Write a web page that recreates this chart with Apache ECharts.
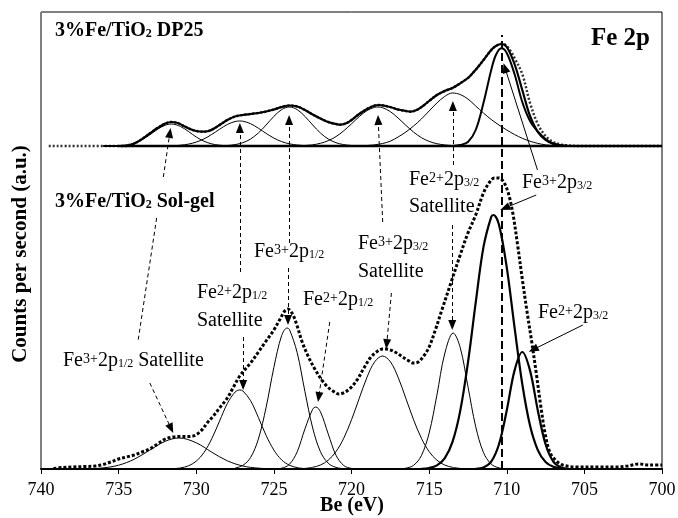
<!DOCTYPE html>
<html>
<head>
<meta charset="utf-8">
<script src="https://cdn.jsdelivr.net/npm/echarts@6/dist/echarts.min.js"></script>
<style>
html,body{margin:0;padding:0;background:#fff}
#c{width:678px;height:518px}
</style>
</head>
<body>
<div id="c"></div>
<script>
var FONT = 'Liberation Serif';

// x ticks (binding energy, eV)
var xTicks = [740, 735, 730, 725, 720, 715, 710, 705, 700];

// ---- 3%Fe/TiO2 DP25 (upper trace), [Be, counts a.u.] ----
var topBaseline = [[735, 0], [700, 0]];
var topData = [[739.5,0],[734.5,0],[734.2,1],[733.8,4],[733.4,8],[733,12.5],[732.5,18],[732,22.5],[731.6,24],[731.2,23],[730.8,20],[730.4,17],[730,15],[729.6,14.3],[729.2,15],[728.8,18],[728.4,22],[728,26],[727.5,29.5],[727,31],[726.5,32],[726,33],[725.5,34.5],[725,36.5],[724.5,39],[724,40.5],[723.5,39.5],[723,36],[722.5,31.5],[722,27.5],[721.5,24],[721,22],[720.7,21.3],[720.3,23],[720,26],[719.5,32],[719,37],[718.5,40.5],[718.2,41],[717.8,40],[717.4,38.5],[717,36.5],[716.5,35],[716.2,34.3],[715.8,36],[715.4,40],[715,45],[714.5,51],[714,55],[713.5,58],[713,62.7],[712.5,68],[712.2,72.7],[711.8,80],[711.5,86],[711,96],[710.7,100],[710.35,102],[710.2,102],[709.8,96],[709.5,88],[709,72],[708.5,43],[708,22],[707.5,10],[707,4],[706.5,1.5],[706,0.5],[705.5,0],[700,0]];
var topFit = [[736,0],[734.5,0],[734.2,1],[733.8,4],[733.4,8],[733,12.5],[732.5,18],[732,22.5],[731.6,24],[731.2,23],[730.8,20],[730.4,17],[730,15],[729.6,14.3],[729.2,15],[728.8,18],[728.4,22],[728,26],[727.5,29.5],[727,31],[726.5,32],[726,33],[725.5,34.5],[725,36.5],[724.5,39],[724,40.5],[723.5,39.5],[723,36],[722.5,31.5],[722,27.5],[721.5,24],[721,22],[720.7,21.3],[720.3,23],[720,26],[719.5,32],[719,37],[718.5,40.5],[718.2,41],[717.8,40],[717.4,38.5],[717,36.5],[716.5,35],[716.2,34.3],[715.8,36],[715.4,40],[715,45],[714.5,51],[714,55],[713.5,58],[713,62.7],[712.5,68],[712.2,72.7],[711.8,80],[711.5,86],[711,96],[710.7,100],[710.35,102],[710,99],[709.5,82],[709,56],[708.5,30],[708,14],[707.5,6],[707,2],[706.5,0.5],[706,0],[700,0]];
var topFe3Sat12 = [[735,0.3],[734.5,1.2],[734,3],[733.5,6.3],[733,11.1],[732.5,16.6],[732,20.8],[731.6,22],[731,19.4],[730.5,14.5],[730,9],[729.5,4.8],[729,2.1],[728.5,0.8],[728,0.2],[727.5,0]];
var topFe2Sat12 = [[731.5,0.3],[731,0.8],[730.5,1.9],[730,3.9],[729.5,7.1],[729,11.6],[728.5,16.7],[728,21.5],[727.5,24.5],[727.2,25],[727,24.8],[726.5,22.3],[726,17.8],[725.5,12.6],[725,7.9],[724.5,4.4],[724,2.2],[723.5,1],[723,0.4],[722.5,0.1]];
var topFe3p12 = [[728.5,0.15],[728,0.5],[727.5,1.4],[727,3.3],[726.5,7],[726,13],[725.5,21],[725,29.6],[724.5,36.4],[724,39],[723.5,36.4],[723,29.6],[722.5,21],[722,13],[721.5,7],[721,3.3],[720.5,1.4],[720,0.5],[719.5,0.15]];
var topFe3Sat32 = [[723,0.5],[722.5,1.2],[722,2.7],[721.5,5.3],[721,9.4],[720.5,15.2],[720,22.2],[719.5,29.4],[719,35.4],[718.5,38.7],[718.3,39],[718,38.3],[717.5,34.4],[717,28],[716.5,20.7],[716,13.9],[715.5,8.4],[715,4.6],[714.5,2.3],[714,1.1],[713.5,0.4]];
var topFe2Sat32 = [[719,0.5],[718.5,1.2],[718,2.5],[717.5,4.8],[717,9],[716.5,14],[716,20],[715.5,27],[715,35],[714.5,43],[714,49.5],[713.5,53],[713,51.5],[712.5,47],[712,40],[711.5,33],[711,26.5],[710.5,21],[710,16],[709.5,11.5],[709,7.7],[708.5,4.8],[708,2.6],[707.5,1.2],[707,0.4]];
var topFe3p32 = [[713.5,0],[713,1],[712.5,4],[712,16],[711.5,43],[711,76],[710.7,91],[710.35,97.7],[710,93],[709.5,72],[709,44],[708.5,25],[708,14.5],[707.5,7],[707,2.5],[706.5,0.7],[706,0]];

// ---- 3%Fe/TiO2 Sol-gel (lower trace) ----
var solData = [[739.2,0.5],[738.6,1.5],[738,2],[737.2,2.5],[736.5,3],[736,4.5],[735.5,7],[735,10],[734.5,12],[734,14],[733.5,17],[733,20],[732.5,25],[732,30],[731.5,32],[731,32.5],[730.5,32.5],[730.1,33.5],[729.7,38],[729.3,46],[728.9,53],[728.5,61],[728,71],[727.6,82],[727.2,93],[726.5,106],[726,117],[725.5,128],[725,139],[724.6,150],[724.3,158],[724.1,160],[723.8,155],[723.5,143],[723.2,128],[722.8,113],[722.4,101],[722,91],[721.6,83],[721.2,78],[720.8,75],[720.4,77],[720,82],[719.6,90],[719.2,101],[718.8,111],[718.4,117],[718,120],[717.6,119.5],[717.2,117],[716.8,113],[716.4,109],[716,106],[715.7,107],[715.3,114],[715,122],[714.6,139],[714.2,158],[713.6,186],[713,214],[712.5,236],[712,254],[711.5,276],[711.1,287],[710.8,291],[710.5,291],[710.2,287],[709.9,276],[709.6,255],[709.3,224],[709,190],[708.7,158],[708.4,128],[708.1,96],[707.8,62],[707.5,33],[707.2,16],[706.8,8],[706.4,4],[705.5,2],[704,2],[703,2],[702.2,3],[701.5,5],[700.8,4],[700,4]];
var solFe3Sat12 = [[737,0.25],[736,1.1],[735,3.8],[734,9.7],[733,18.8],[732,27.7],[731.1,31],[730,26.2],[729,16.8],[728,8.2],[727,3],[726,0.85],[725,0.2]];
var solFe2Sat12 = [[731.5,0.3],[731,1.1],[730.5,3.2],[730,7.8],[729.5,16.5],[729,30.3],[728.5,47.9],[728,65.4],[727.5,76.9],[727.2,79],[727,78.1],[726.5,68.3],[726,51.6],[725.5,33.6],[725,18.9],[724.5,9.1],[724,3.8],[723.5,1.4],[723,0.4]];
var solFe3p12 = [[727.5,0.9],[727,3.6],[726.5,11.5],[726,29.9],[725.5,61.7],[725,101.6],[724.5,133.4],[724.15,141],[724,139.6],[723.5,116.4],[723,77.4],[722.5,41],[722,17.3],[721.5,5.8],[721,1.6],[720.5,0.3]];
var solFe2p12 = [[725,0.1],[724.5,0.8],[724,4.7],[723.5,17.2],[723,40.1],[722.5,59.8],[722.3,62],[722,57.2],[721.5,35.1],[721,13.8],[720.5,3.5],[720,0.6],[719.5,0]];
var solFe3Sat32 = [[723,0.6],[722.5,1.7],[722,4],[721.5,8.8],[721,17.4],[720.5,30.8],[720,49.2],[719.5,70.7],[719,91.8],[718.5,107.3],[718,113],[717.5,107.3],[717,91.8],[716.5,70.7],[716,49.2],[715.5,30.8],[715,17.4],[714.5,8.8],[714,4],[713.5,1.7],[713,0.6]];
var solFe2Sat32 = [[717,0.1],[716.5,0.8],[716,3.7],[715.5,13.3],[715,35.9],[714.5,73.8],[714,115],[713.45,136],[713,121.6],[712.5,82.5],[712,42.4],[711.5,16.5],[711,4.9],[710.5,1.1],[710,0.2]];
var solFe3p32 = [[715.5,0.25],[715,1],[714.5,3.6],[714,10.6],[713.5,26.8],[713,57.9],[712.5,106.3],[712,166.4],[711.5,221.9],[711,252.2],[710.85,254],[710.5,244.2],[710,201.6],[709.5,141.8],[709,85],[708.5,43.4],[708,18.9],[707.5,7],[707,2.2],[706.5,0.6]];
var solFe2p32 = [[712,0.2],[711.5,1.5],[711,7.3],[710.5,24.7],[710,58.6],[709.5,98.4],[709,117],[708.5,98.4],[708,58.6],[707.5,24.7],[707,7.3],[706.5,1.5],[706,0.2]];

// vertical offset of the upper trace
var TOP_OFFSET = 323;

function curve(data, offset, width, dash, color) {
  return {
    type: 'line',
    data: data.map(function (p) { return [p[0], p[1] + offset]; }),
    showSymbol: false,
    symbol: 'none',
    smooth: 0.35,
    silent: true,
    lineStyle: { color: color || '#000', width: width, type: dash || 'solid' }
  };
}

function arrow(p1, p2, dashed, head) {
  return [
    { coord: p1, symbol: 'none', lineStyle: { type: dashed ? [4, 3] : 'solid', width: 1, color: '#000' } },
    { coord: p2, symbol: head ? 'triangle' : 'none' }
  ];
}

var arrows = [
  arrow([732.12, 292], [731.70, 336], true, true),
  arrow([732.55, 251], [733.74, 129], true, false),
  arrow([732.99, 86], [731.62, 40.5], true, true),
  arrow([727.19, 197], [727.19, 341], true, true),
  arrow([726.98, 132], [726.98, 84], true, true),
  arrow([724.02, 226], [724.02, 349], true, true),
  arrow([724.09, 201], [724.09, 149], true, true),
  arrow([721.40, 147], [722.11, 72], true, true),
  arrow([717.99, 247], [718.28, 349], true, true),
  arrow([717.43, 176], [717.73, 125], true, true),
  arrow([713.47, 304], [713.47, 363], true, true),
  arrow([713.51, 244], [713.51, 144], true, true),
  arrow([708.02, 299], [710.11, 401], false, true),
  arrow([708.10, 274], [710.12, 261], false, true),
  arrow([705.10, 144], [708.29, 119.5], false, true),
  [
    { coord: [710.32, 0], symbol: 'none', lineStyle: { type: [8, 4], width: 2, color: '#000' } },
    { coord: [710.32, 434], symbol: 'none' }
  ]
];

function richFor(size, bold) {
  var w = bold ? 'bold' : 'normal';
  return {
    sup: { fontFamily: FONT, fontSize: Math.round(size * 0.68), fontWeight: w, lineHeight: Math.round(size * 0.68), verticalAlign: 'top', fill: '#000' },
    sub: { fontFamily: FONT, fontSize: Math.round(size * 0.62), fontWeight: w, lineHeight: Math.round(size * 0.25), verticalAlign: 'bottom', fill: '#000' }
  };
}

function txt(x, y, text, size, bold, align, rot) {
  return {
    type: 'text', x: x, y: y, rotation: rot || 0, silent: true, z: 100,
    style: {
      text: text, fontFamily: FONT, fontSize: size, fontWeight: bold ? 'bold' : 'normal',
      fill: '#000', align: align || 'left', verticalAlign: 'middle',
      lineHeight: Math.round(size * 0.9), rich: richFor(size, bold)
    }
  };
}

var labels = [
  txt(21, 254, 'Counts per second (a.u.)', 21, true, 'center', Math.PI / 2),
  txt(352, 506, 'Be (eV)', 20, true, 'center'),
  txt(55, 31, '3%Fe/TiO{sub|2} DP25', 20, true),
  txt(650, 39, 'Fe 2p', 25, true, 'right'),
  txt(55, 202, '3%Fe/TiO{sub|2} Sol-gel', 20, true),
  txt(63, 361, 'Fe{sup|3+}2p{sub|1/2} Satellite', 20),
  txt(197, 293, 'Fe{sup|2+}2p{sub|1/2}', 20),
  txt(197, 321, 'Satellite', 20),
  txt(254, 252, 'Fe{sup|3+}2p{sub|1/2}', 20),
  txt(303, 300, 'Fe{sup|2+}2p{sub|1/2}', 20),
  txt(358, 244, 'Fe{sup|3+}2p{sub|3/2}', 20),
  txt(358, 272, 'Satellite', 20),
  txt(409, 180, 'Fe{sup|2+}2p{sub|3/2}', 20),
  txt(409, 207, 'Satellite', 20),
  txt(522, 183, 'Fe{sup|3+}2p{sub|3/2}', 20),
  txt(538, 313, 'Fe{sup|2+}2p{sub|3/2}', 20)
];

var series = [
  curve(topData, TOP_OFFSET, 2.5, [2, 2], '#333'),
  curve(topBaseline, TOP_OFFSET, 2.5),
  curve(topFit, TOP_OFFSET, 2.2),
  curve(topFe3Sat12, TOP_OFFSET, 1),
  curve(topFe2Sat12, TOP_OFFSET, 1),
  curve(topFe3p12, TOP_OFFSET, 1),
  curve(topFe3Sat32, TOP_OFFSET, 1),
  curve(topFe2Sat32, TOP_OFFSET, 1),
  curve(topFe3p32, TOP_OFFSET, 2),
  curve(solData, 0, 3, [3, 2]),
  curve(solFe3Sat12, 0, 1),
  curve(solFe2Sat12, 0, 1),
  curve(solFe3p12, 0, 1),
  curve(solFe2p12, 0, 1),
  curve(solFe3Sat32, 0, 1),
  curve(solFe2Sat32, 0, 1),
  curve(solFe3p32, 0, 2.2),
  curve(solFe2p32, 0, 2.2),
  {
    type: 'line', data: [], silent: true,
    markLine: {
      silent: true, animation: false,
      symbol: ['none', 'triangle'], symbolSize: [8, 10],
      label: { show: false },
      emphasis: { disabled: true },
      data: arrows
    }
  }
];

var option = {
  animation: false,
  backgroundColor: '#fff',
  grid: {
    left: 41, right: 16, top: 12, bottom: 49, outerBoundsMode: 'none', containLabel: false,
    show: true, borderColor: '#000', borderWidth: 1
  },
  xAxis: {
    type: 'value', min: xTicks[xTicks.length - 1], max: xTicks[0], interval: 5, inverse: true,
    axisLine: { show: true, onZero: false, lineStyle: { color: '#000', width: 2 } },
    axisTick: { show: true, inside: false, length: 5, lineStyle: { color: '#000' } },
    axisLabel: { fontFamily: FONT, fontSize: 18, color: '#000', margin: 12 },
    splitLine: { show: false }
  },
  yAxis: {
    type: 'value', min: 0, max: 457,
    axisLine: { show: true, lineStyle: { color: '#808080', width: 1 } },
    axisTick: { show: false }, axisLabel: { show: false }, splitLine: { show: false }
  },
  graphic: labels,
  series: series
};

var chart = echarts.init(document.getElementById('c'));
chart.setOption(option);
</script>
</body>
</html>
